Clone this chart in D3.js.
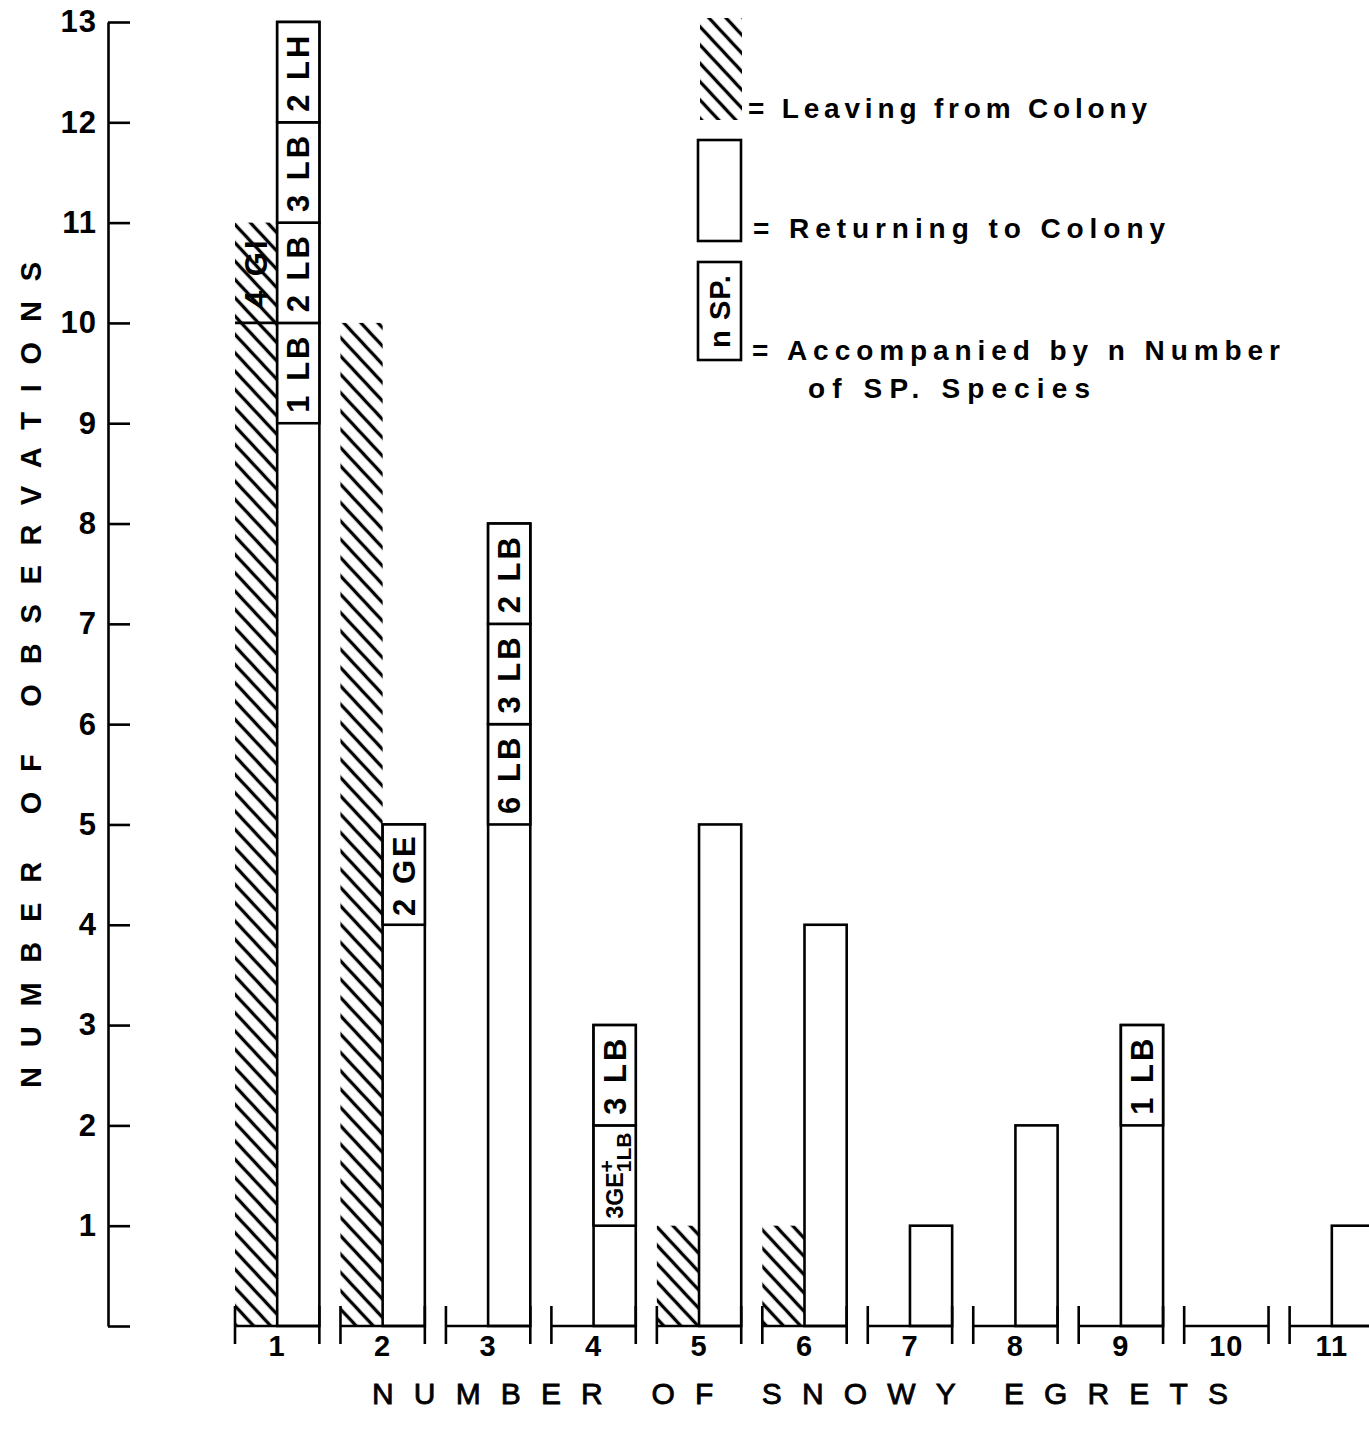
<!DOCTYPE html>
<html>
<head>
<meta charset="utf-8">
<script src="https://cdn.jsdelivr.net/npm/d3@7"></script>
<style>
  body { margin: 0; background: #fff; }
  text { font-family: "Liberation Sans", Arial, Helvetica, sans-serif; fill: #000; }
</style>
</head>
<body>
<svg id="chart" width="1369" height="1429"></svg>
<script>
// Group sizes (number of snowy egrets in the flock)
const groups = ["1", "2", "3", "4", "5", "6", "7", "8", "9", "10", "11"];
// Observations of flocks leaving the colony
const leaving = [11, 10, 0, 0, 1, 1, 0, 0, 0, 0, 0];
// Observations of flocks returning to the colony
const returning = [13, 5, 8, 3, 5, 4, 1, 2, 3, 0, 1];
// Y axis ticks
const yTicks = [0, 1, 2, 3, 4, 5, 6, 7, 8, 9, 10, 11, 12, 13];

// Observations in which the egrets were accompanied by other species:
// group, series, lower bound of the one-observation block, label
const segGroup  = ["1", "1", "1", "1", "1", "2", "3", "3", "3", "4", "4", "9"];
const segSeries = ["leaving", "returning", "returning", "returning", "returning",
                   "returning", "returning", "returning", "returning", "returning", "returning", "returning"];
const segLevel  = [10, 9, 10, 11, 12, 4, 5, 6, 7, 1, 2, 2];
const segLabel  = ["4 GI", "1 LB", "2 LB", "3 LB", "2 LH", "2 GE", "6 LB", "3 LB", "2 LB", "3GE+1LB", "3 LB", "1 LB"];

const legendLabels = ["= Leaving from Colony", "= Returning to Colony", "= Accompanied by n Number", "of SP. Species"];

const svg = d3.select("#chart");
const SW = 2.6;

// Diagonal hatch for "leaving" bars
const defs = svg.append("defs");
const pat = defs.append("pattern")
  .attr("id", "hatch")
  .attr("patternUnits", "userSpaceOnUse")
  .attr("width", 10).attr("height", 12.5)
  .attr("patternTransform", "rotate(47)");
pat.append("line")
  .attr("x1", -1).attr("x2", 11).attr("y1", 6.25).attr("y2", 6.25)
  .attr("stroke", "#000").attr("stroke-width", 3.3);

const y = d3.scaleLinear().domain([0, 13]).range([1326, 22]);
const x = d3.scaleBand().domain(groups).range([235, 1374]).paddingInner(0.2).paddingOuter(0);
const half = x.bandwidth() / 2;

// Y axis: ticks pointing into the plot, labels on the left
const yAxis = d3.axisLeft(y)
  .tickValues(yTicks)
  .tickSizeInner(-22)
  .tickSizeOuter(0)
  .tickPadding(11)
  .tickFormat(d => d === 0 ? "" : d);
const gy = svg.append("g").attr("transform", "translate(108,0)").call(yAxis);
gy.select(".domain").attr("stroke", "#000").attr("stroke-width", SW);
gy.selectAll(".tick line").attr("stroke", "#000").attr("stroke-width", SW);
gy.selectAll(".tick text")
  .attr("font-size", 31).attr("font-weight", "bold")
  .attr("letter-spacing", 1)
  .attr("font-family", "'Liberation Sans', Arial, sans-serif")
  .attr("fill", "#000");

const data = groups.map((g, i) => ({ g, leave: leaving[i], ret: returning[i] }));

// Leaving bars (hatched, left half of each group)
svg.append("g").selectAll("rect")
  .data(data.filter(d => d.leave > 0))
  .join("rect")
  .attr("x", d => x(d.g))
  .attr("width", half)
  .attr("y", d => y(d.leave))
  .attr("height", d => y(0) - y(d.leave))
  .attr("fill", "url(#hatch)");

// Returning bars (open, right half of each group)
svg.append("g").selectAll("rect")
  .data(data.filter(d => d.ret > 0))
  .join("rect")
  .attr("x", d => x(d.g) + half)
  .attr("width", half)
  .attr("y", d => y(d.ret))
  .attr("height", d => y(0) - y(d.ret))
  .attr("fill", "#fff")
  .attr("stroke", "#000").attr("stroke-width", SW);

// Accompanied blocks
const segs = segGroup.map((g, i) => ({ g, s: segSeries[i], lo: segLevel[i], label: segLabel[i] }));
const segG = svg.append("g");
segs.forEach(d => {
  const x0 = x(d.g) + (d.s === "leaving" ? 0 : half);
  if (d.s === "returning") {
    segG.append("rect")
      .attr("x", x0).attr("width", half)
      .attr("y", y(d.lo + 1)).attr("height", y(d.lo) - y(d.lo + 1))
      .attr("fill", "#fff").attr("stroke", "#000").attr("stroke-width", SW);
  } else {
    segG.append("line")
      .attr("x1", x0).attr("x2", x0 + half)
      .attr("y1", y(d.lo)).attr("y2", y(d.lo))
      .attr("stroke", "#000").attr("stroke-width", SW);
  }
  const cx = x0 + half / 2;
  const cy = (y(d.lo) + y(d.lo + 1)) / 2;
  const t = segG.append("text")
    .attr("transform", `translate(${cx},${cy}) rotate(-90)`)
    .attr("text-anchor", "middle")
    .attr("dy", "0.36em")
    .attr("font-weight", "bold");
  if (d.label.includes("+")) {
    const [main, rest] = d.label.split("+");
    t.attr("font-size", 23).attr("letter-spacing", 0);
    t.append("tspan").text(main);
    t.append("tspan").attr("dy", -9).attr("font-size", 21).text("+");
    t.append("tspan").attr("dx", -12).attr("dy", 17).attr("font-size", 21).text(rest);
  } else {
    t.attr("font-size", 31).attr("letter-spacing", 3).text(d.label);
  }
});

// Group baselines with end ticks
const br = svg.append("g").attr("stroke", "#000").attr("stroke-width", SW);
groups.forEach(g => {
  br.append("line").attr("x1", x(g)).attr("x2", x(g) + x.bandwidth())
    .attr("y1", y(0)).attr("y2", y(0));
  [x(g), x(g) + x.bandwidth()].forEach(xx => {
    br.append("line").attr("x1", xx).attr("x2", xx)
      .attr("y1", y(0) - 20).attr("y2", y(0) + 18);
  });
});

// Group labels
svg.append("g").selectAll("text")
  .data(groups)
  .join("text")
  .attr("x", d => x(d) + x.bandwidth() / 2)
  .attr("y", 1356)
  .attr("text-anchor", "middle")
  .attr("font-size", 29).attr("font-weight", "bold")
  .attr("letter-spacing", 1)
  .text(d => d);

// Axis titles
svg.append("text")
  .attr("transform", "translate(41,675) rotate(-90)")
  .attr("text-anchor", "middle")
  .attr("font-size", 29).attr("font-weight", "bold")
  .attr("textLength", 826).attr("lengthAdjust", "spacing")
  .text("NUMBER OF OBSERVATIONS");

svg.append("text")
  .attr("x", 800).attr("y", 1404)
  .attr("text-anchor", "middle")
  .attr("font-size", 30)
  .attr("stroke", "#000").attr("stroke-width", 0.8)
  .attr("textLength", 856).attr("lengthAdjust", "spacing")
  .text("NUMBER OF SNOWY EGRETS");

// Legend
const lg = svg.append("g");
lg.append("rect").attr("x", 700).attr("y", 18).attr("width", 42).attr("height", 102)
  .attr("fill", "url(#hatch)");
lg.append("rect").attr("x", 698).attr("y", 140).attr("width", 43).attr("height", 101)
  .attr("fill", "#fff").attr("stroke", "#000").attr("stroke-width", SW);
lg.append("rect").attr("x", 698).attr("y", 262).attr("width", 43).attr("height", 98)
  .attr("fill", "#fff").attr("stroke", "#000").attr("stroke-width", SW);
lg.append("text")
  .attr("transform", "translate(720,311) rotate(-90)")
  .attr("text-anchor", "middle").attr("dy", "0.36em")
  .attr("font-size", 29).attr("font-weight", "bold")
  .attr("letter-spacing", 1)
  .text("n SP.");

const legPos = [[748, 118], [753, 238], [752, 360], [808, 398]];
const legLen = [399, 412, 528, 282];
lg.selectAll("text.lab")
  .data(legendLabels)
  .join("text")
  .attr("class", "lab")
  .attr("x", (d, i) => legPos[i][0])
  .attr("y", (d, i) => legPos[i][1])
  .attr("font-size", 28).attr("font-weight", "bold")
  .attr("textLength", (d, i) => legLen[i]).attr("lengthAdjust", "spacing")
  .text(d => d);
</script>
</body>
</html>
